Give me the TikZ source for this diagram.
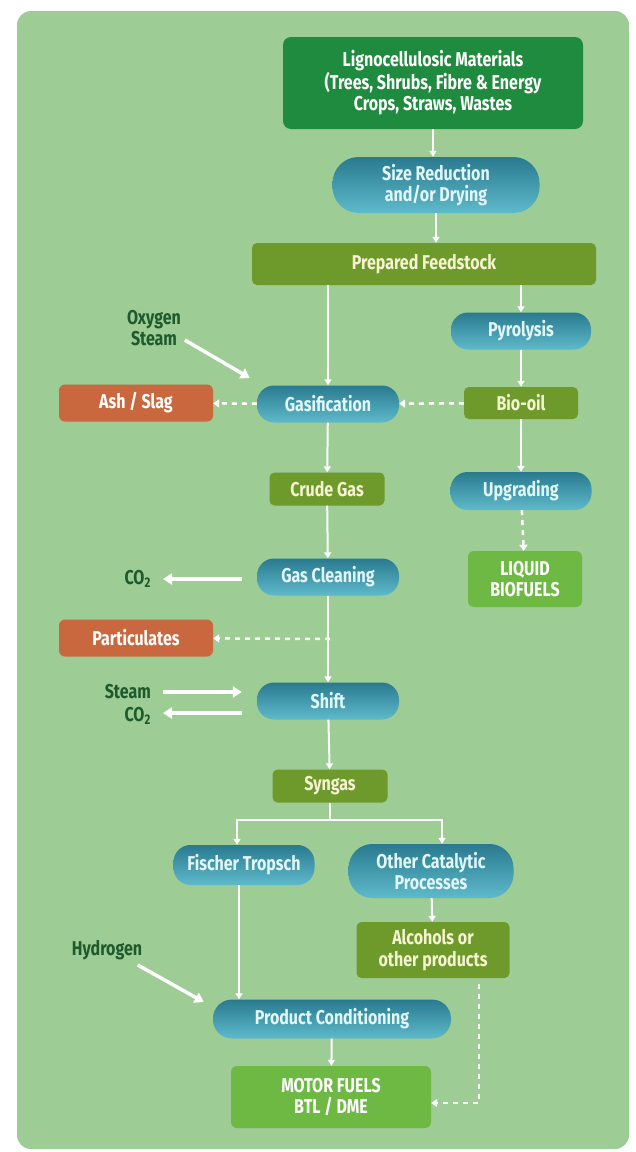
\documentclass[tikz,border=0pt]{standalone}
\usepackage{fontspec}
\setmainfont[FakeStretch=0.8]{Fira Sans}
\usetikzlibrary{arrows.meta,calc}
\definecolor{bgc}{HTML}{9DCC94}
\definecolor{dgreen}{HTML}{1F8B3F}
\definecolor{olive}{HTML}{6E9A2C}
\definecolor{rust}{HTML}{C9683F}
\definecolor{lgreen}{HTML}{6DB943}
\definecolor{ptop}{HTML}{2A7A8F}
\definecolor{pbot}{HTML}{5EBACB}
\definecolor{lbl}{HTML}{1F5A2E}
\definecolor{ptext}{HTML}{E2F6F8}
\definecolor{otext}{HTML}{F6F3D2}
\tikzset{
  base/.style={inner sep=0pt, align=center, font=\bfseries\fontsize{20}{21.5}\selectfont},
  boxd/.style={base, fill=dgreen, rounded corners=8pt, text=white},
  boxo/.style={base, fill=olive, rounded corners=5pt, text=otext},
  boxr/.style={base, fill=rust, rounded corners=6pt, text=white},
  boxl/.style={base, fill=lgreen, rounded corners=6pt, text=white},
  pill/.style={base, top color=ptop, bottom color=pbot, rounded corners=17pt, text=ptext},
  lab/.style={inner sep=0pt, align=center, text=lbl, font=\bfseries\fontsize{20}{21.5}\selectfont},
  flow/.style={draw=white, line width=2pt, -{Triangle[length=6pt,width=7pt]}},
  dflow/.style={draw=white, line width=2.5pt, dash pattern=on 5pt off 5pt, -{Triangle[length=6pt,width=8pt]}},
  input/.style={draw=white, line width=3.5pt, -{Triangle[length=9pt,width=11pt]}},
}
\begin{document}
\begin{tikzpicture}[x=1pt,y=-1pt]
\useasboundingbox (0,0) rectangle (635,1152);
\fill[white] (0,0) rectangle (635,1152);
\fill[bgc, rounded corners=14pt] (17,11) rectangle (629,1149);

\node[boxd, minimum width=300pt, minimum height=92pt] (lig) at (433,83) {Lignocellulosic Materials\\(Trees, Shrubs, Fibre \& Energy\\Crops, Straws, Wastes};
\node[pill, minimum width=207pt, minimum height=56pt, rounded corners=26pt] (size) at (436,185) {Size Reduction\\and/or Drying};
\node[boxo, minimum width=344pt, minimum height=42pt] (prep) at (424,264) {Prepared Feedstock};
\node[pill, minimum width=140pt, minimum height=37pt] (pyro) at (521,331) {Pyrolysis};
\node[pill, minimum width=142pt, minimum height=37pt] (gas) at (328,404) {Gasification};
\node[boxr, minimum width=154pt, minimum height=37pt] (ash) at (136,403) {Ash / Slag};
\node[boxo, minimum width=114pt, minimum height=32pt] (bio) at (521,403) {Bio-oil};
\node[boxo, minimum width=115pt, minimum height=33pt] (crude) at (327,489) {Crude Gas};
\node[pill, minimum width=141pt, minimum height=38pt] (upg) at (521,491) {Upgrading};
\node[boxl, minimum width=114pt, minimum height=56pt] (liq) at (525,579) {LIQUID\\BIOFUELS};
\node[pill, minimum width=142pt, minimum height=37pt] (clean) at (328,577) {Gas Cleaning};
\node[boxr, minimum width=154pt, minimum height=37pt] (part) at (136,638) {Particulates};
\node[pill, minimum width=142pt, minimum height=37pt] (shift) at (328,701) {Shift};
\node[boxo, minimum width=115pt, minimum height=33pt] (syn) at (330,786) {Syngas};
\node[pill, minimum width=141pt, minimum height=40pt] (ft) at (244,865) {Fischer Tropsch};
\node[pill, minimum width=165pt, minimum height=54pt, rounded corners=24pt] (other) at (431,871) {Other Catalytic\\Processes};
\node[boxo, minimum width=153pt, minimum height=56pt] (alc) at (433,950) {Alcohols or\\other products};
\node[pill, minimum width=238pt, minimum height=39pt, rounded corners=19pt] (prod) at (332,1019) {Product Conditioning};
\node[boxl, minimum width=200pt, minimum height=62pt] (motor) at (331,1097) {MOTOR FUELS\\BTL / DME};

\node[lab] (oxy) at (154,328) {Oxygen\\Steam};
\node[lab, anchor=east] (co2a) at (151,579) {CO\textsubscript{2}};
\node[lab, anchor=east] (steam) at (151,692) {Steam};
\node[lab, anchor=east] (co2b) at (151,716) {CO\textsubscript{2}};
\node[lab] (hyd) at (107,950) {Hydrogen};

\coordinate (br) at (330,820);
\coordinate (pj) at (330,639);

% main flow
\draw[flow] (lig.south) -- (lig.south |- size.north);
\draw[flow] (size.south) -- (size.south |- prep.north);
\draw[flow] (prep.south -| gas.north) -- (gas.north);
\draw[flow] (prep.south -| pyro.north) -- (pyro.north);
\draw[flow] (pyro) -- (bio);
\draw[flow] (bio) -- (upg);
\draw[dflow] (upg) -- (liq);
\draw[dflow] (bio) -- (gas);
\draw[dflow] (gas) -- (ash);
\draw[flow] (gas) -- (crude);
\draw[flow] (crude) -- (clean);
\draw[flow] (clean) -- (shift);
\draw[dflow] (pj) -- (part);
\draw[flow] (shift) -- (syn);
\draw[flow] (syn.south) -- (br) -| ([xshift=-7pt]ft.north);
\draw[flow] (br) -| ([xshift=11pt]other.north);
\draw[flow] ([xshift=-5pt]ft.south) -- ([xshift=-5pt]ft.south |- prod.north);
\draw[flow] (other) -- (alc);
\draw[flow] (prod) -- (motor);
\draw[dflow] ([xshift=46pt,yshift=-6pt]alc.south) |- ([yshift=-6pt]motor.east);

% inputs / outputs
\draw[input] ($(gas.west)+(-72,-64)$) -- ($(gas.west)+(-7,-26)$);
\draw[input] ([xshift=-15pt]clean.west |- co2a) -- ([xshift=12pt]co2a.east);
\draw[input] ([xshift=12pt]steam.east) -- ([xshift=-15pt]shift.west |- steam);
\draw[input] ([xshift=-15pt,yshift=3pt]shift.west |- co2b) -- ([xshift=12pt,yshift=3pt]co2b.east);
\draw[input] ($(prod.west)+(-75,-54)$) -- ($(prod.west)+(-9,-17)$);
\end{tikzpicture}
\end{document}
